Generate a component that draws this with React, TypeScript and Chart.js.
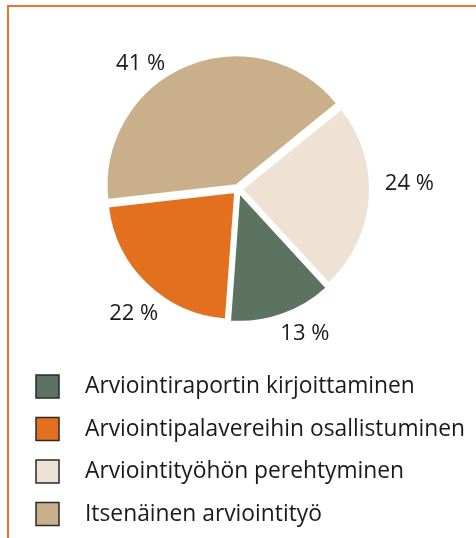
import React, { useEffect, useRef } from "react";
import { Chart, registerables } from "chart.js";

Chart.register(...registerables);

// Legend order
const categories = [
  "Arviointiraportin kirjoittaminen",
  "Arviointipalavereihin osallistuminen",
  "Arviointityöhön perehtyminen",
  "Itsenäinen arviointityö",
];
const values = [13, 22, 24, 41];
const colors = ["#5B7360", "#E2701F", "#EDE2D4", "#C9B08B"];
// Clockwise drawing order of the slices (indices into the arrays above)
const drawOrder = [0, 1, 3, 2];

const FONT = "'Open Sans', 'Noto Sans', sans-serif";

const labelPlugin = {
  id: "pctLabels",
  afterDatasetsDraw(chart: any) {
    const ctx = chart.ctx;
    const meta = chart.getDatasetMeta(0);
    ctx.save();
    ctx.font = `22px ${FONT}`;
    ctx.fillStyle = "#1a1a1a";
    ctx.textAlign = "center";
    ctx.textBaseline = "middle";
    meta.data.forEach((arc: any, i: number) => {
      const p = arc.getProps(["x", "y", "startAngle", "endAngle", "outerRadius"], true);
      const a = p.startAngle + 0.42 * (p.endAngle - p.startAngle);
      const ux = Math.cos(a);
      const uy = Math.sin(a);
      const text = `${chart.data.datasets[0].data[i]} %`;
      const w = ctx.measureText(text).width;
      const h = 16;
      const d = p.outerRadius + 19;
      const cx = p.x + ux * d + (ux * w) / 2;
      const cy = p.y + uy * d + (uy * h) / 2 + 2;
      ctx.fillText(text, cx, cy);
    });
    ctx.restore();
  },
};

const legendPlugin = {
  id: "customLegend",
  afterDraw(chart: any) {
    const ctx = chart.ctx;
    ctx.save();
    const top = 375;
    const step = 42.5;
    categories.forEach((label, i) => {
      const y = top + i * step;
      ctx.fillStyle = colors[i];
      ctx.fillRect(36, y, 23, 23);
      ctx.strokeStyle = "#2a2a2a";
      ctx.lineWidth = 1.5;
      ctx.strokeRect(36, y, 23, 23);
      ctx.fillStyle = "#1a1a1a";
      ctx.font = `22.8px ${FONT}`;
      ctx.textAlign = "left";
      ctx.textBaseline = "middle";
      ctx.fillText(label, 85, y + 12);
    });
    ctx.restore();
  },
};

export default function App() {
  const ref = useRef<HTMLCanvasElement>(null);
  useEffect(() => {
    if (!ref.current) return;
    const chart = new Chart(ref.current, {
      type: "pie",
      data: {
        labels: drawOrder.map((i) => categories[i]),
        datasets: [
          {
            data: drawOrder.map((i) => values[i]),
            backgroundColor: drawOrder.map((i) => colors[i]),
            borderColor: "#ffffff",
            borderWidth: 2,
            offset: 16,
            hoverOffset: 0,
          },
        ],
      },
      options: {
        responsive: false,
        animation: false,
        rotation: 137.4,
        radius: 128,
        layout: { padding: { top: 20, bottom: 180, left: 20, right: 20 } },
        plugins: {
          legend: { display: false },
          tooltip: { enabled: false },
        },
        events: [],
      } as any,
      plugins: [labelPlugin, legendPlugin],
    });
    return () => chart.destroy();
  }, []);

  return (
    <div style={{ position: "absolute", left: 0, top: 0, width: 476, height: 538, background: "#fff" }}>
      <div
        style={{
          position: "absolute",
          left: 7,
          top: 5,
          right: 0,
          bottom: 0,
          borderLeft: "2px solid #E8762A",
          borderTop: "2px solid #E8762A",
        }}
      />
      <canvas ref={ref} width={476} height={538} style={{ position: "absolute", left: 0, top: 0 }} />
    </div>
  );
}
